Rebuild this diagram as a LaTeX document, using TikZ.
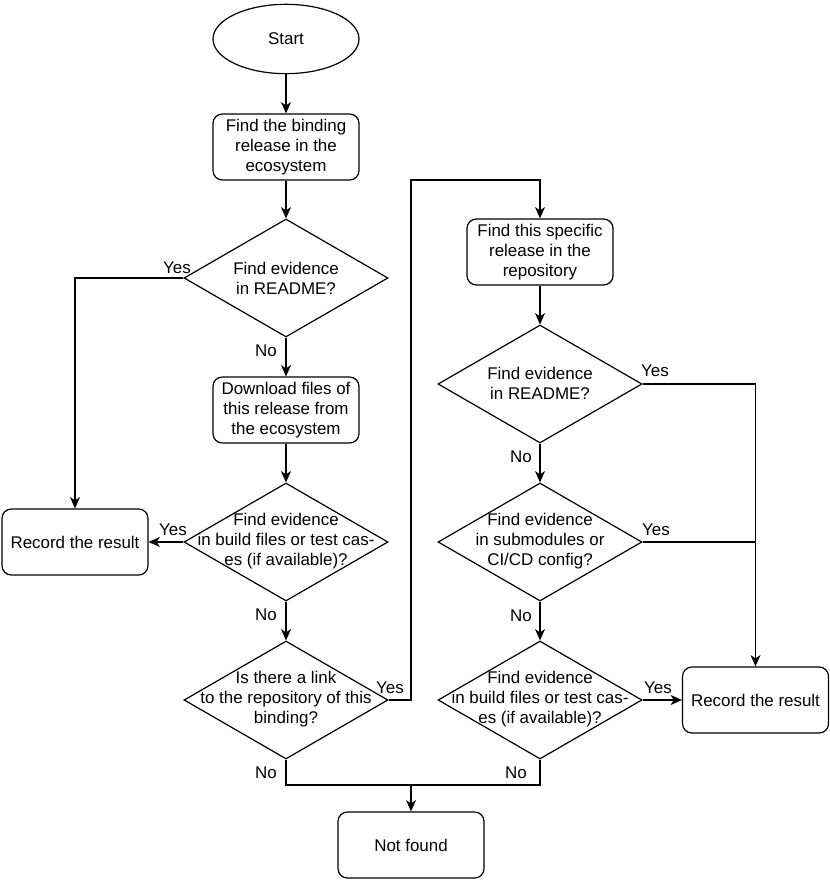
\documentclass[tikz,border=0pt]{standalone}
\usepackage{fontspec}
\setmainfont{Liberation Sans}
\usetikzlibrary{shapes.geometric,arrows.meta}
\begin{document}
\begin{tikzpicture}[x=0.75pt,y=-0.75pt,
  every node/.style={font=\fontsize{12.7}{15}\selectfont},
  line/.style={draw=black,line width=0.9pt},
  arr/.style={line,-{Stealth[length=8.5pt,width=7.5pt,inset=2.5pt]}},
  term/.style={ellipse,draw,line width=0.9pt,minimum width=109.5pt,minimum height=52pt,inner sep=0pt},
  proc/.style={rectangle,draw,line width=0.9pt,rounded corners=7pt,minimum width=109.5pt,minimum height=49.5pt,align=center,inner sep=0pt},
  dec/.style={diamond,draw,line width=0.9pt,minimum width=153pt,minimum height=88.5pt,inner sep=0pt},
  dtxt/.style={align=center,inner sep=0pt},
  lbl/.style={inner sep=0pt}]
\useasboundingbox (0,0) rectangle (830,880);
% nodes
\node[term] (start) at (286,39) {Start};
\node[proc] (b1) at (286,147) {Find the binding\\release in the\\ecosystem};
\node[dec] (d1) at (286,278) {};
\node[dtxt] (t1) at (286,278) {Find evidence\\in README?};
\node[proc] (b2) at (286,410) {Download files of\\this release from\\the ecosystem};
\node[dec] (d2) at (286,542) {};
\node[dtxt] (t2) at (286,541) {Find evidence\\in build files or test cas-\\es (if available)?};
\node[proc] (rl) at (75,542) {Record the result};
\node[dec] (d3) at (286,700) {};
\node[dtxt] (t3) at (286,699) {Is there a link\\to the repository of this\\binding?};
\node[proc] (nf) at (411,845) {Not found};
\node[proc] (b3) at (540,252) {Find this specific\\release in the\\repository};
\node[dec] (d4) at (540,384) {};
\node[dtxt] (t4) at (540,383) {Find evidence\\in README?};
\node[dec] (d5) at (540,542) {};
\node[dtxt] (t5) at (540,541) {Find evidence\\in submodules or\\CI/CD config?};
\node[dec] (d6) at (540,700) {};
\node[dtxt] (t6) at (540,699) {Find evidence\\in build files or test cas-\\es (if available)?};
\node[proc] (rr) at (755.5,700) {Record the result};
\coordinate (j1) at (411,180);
\coordinate (j2) at (411,785);
% connectors
\draw[arr] (start) -- (b1);
\draw[arr] (b1) -- (d1.north);
\draw[arr] (d1.south) -- (b2);
\draw[arr] (b2) -- (d2.north);
\draw[arr] (d2.south) -- (d3.north);
\draw[arr] (d1.west) -| (rl.north);
\draw[arr] (d2.west) -- (rl.east);
\draw[arr] (d3.east) -| (j1) -| (b3.north);
\draw[line] (d3.south) |- (j2);
\draw[line] (d6.south) |- (j2);
\draw[arr] (j2) -- (nf.north);
\draw[arr] (b3) -- (d4.north);
\draw[arr] (d4.south) -- (d5.north);
\draw[arr] (d5.south) -- (d6.north);
\draw[arr] (d4.east) -| (rr.north);
\draw[line] (d5.east) -- (rr.north |- d5.east);
\draw[arr] (d6.east) -- (rr.west);
% labels
\node[lbl] (y1) at (177,268) {Yes};
\node[lbl] (n1) at (266,351) {No};
\node[lbl] (y2) at (173,530) {Yes};
\node[lbl] (n2) at (266,615) {No};
\node[lbl] (y3) at (390,688) {Yes};
\node[lbl] (n3) at (266,773) {No};
\node[lbl] (y4) at (655,371) {Yes};
\node[lbl] (n4) at (521,457) {No};
\node[lbl] (y5) at (656,530) {Yes};
\node[lbl] (n5) at (521,616) {No};
\node[lbl] (y6) at (658,688) {Yes};
\node[lbl] (n6) at (516,773) {No};
\end{tikzpicture}
\end{document}
